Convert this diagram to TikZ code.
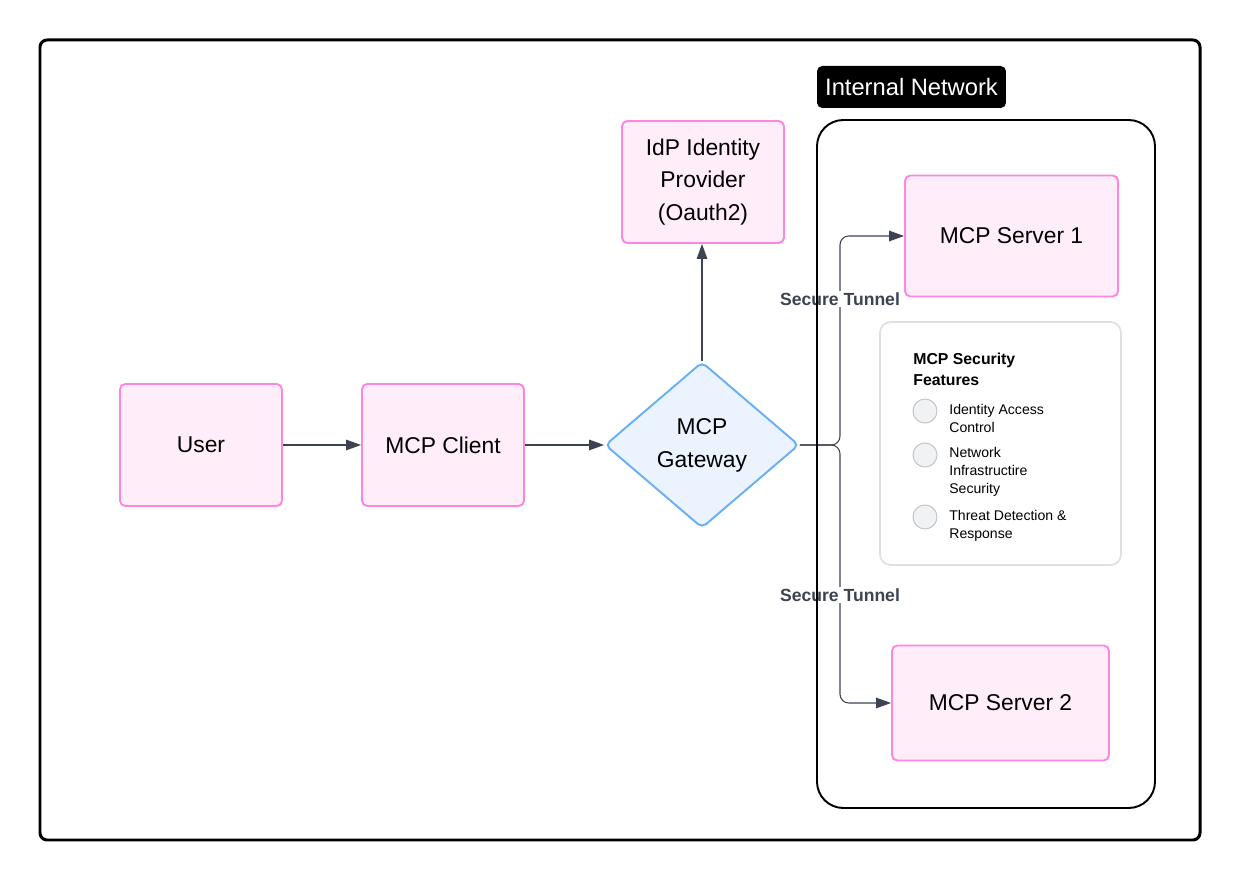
\documentclass[tikz,border=0pt]{standalone}
\usepackage{fontspec}
\setmainfont{Liberation Sans}
\usetikzlibrary{shapes.geometric, arrows.meta, positioning}
\definecolor{nodepink}{HTML}{FF85E0}
\definecolor{nodefill}{HTML}{FFEEF9}
\definecolor{gateblue}{HTML}{6AAEF8}
\definecolor{gatefill}{HTML}{EAF3FE}
\definecolor{linkgray}{HTML}{3D4350}
\definecolor{featline}{HTML}{DDE0E4}
\definecolor{dotfill}{HTML}{F1F2F4}
\definecolor{dotline}{HTML}{C4C6CA}

\begin{document}
\begin{tikzpicture}[x=0.02cm, y=-0.02cm,
  box/.style={draw=nodepink, fill=nodefill, line width=1.1pt, rounded corners=3pt, align=center, font=\fontsize{13}{18.3}\selectfont},
  gate/.style={diamond, draw=gateblue, fill=gatefill, line width=1.1pt, rounded corners=3pt, align=center, inner sep=0pt, minimum width=3.88cm, minimum height=3.32cm, font=\fontsize{13}{18.7}\selectfont},
  link/.style={draw=linkgray, line width=0.6pt, -{Triangle[length=8.5pt,width=6pt]}},
  tunnel/.style={font=\fontsize{10}{12}\selectfont\bfseries, text=linkgray, fill=white, inner sep=1pt},
  dot/.style={circle, draw=dotline, fill=dotfill, line width=0.6pt, minimum size=0.48cm, inner sep=0pt},
  item/.style={anchor=north west, align=left, inner sep=0pt, font=\fontsize{8}{10.2}\selectfont}
]
\useasboundingbox (0,0) rectangle (1241,881);
\draw[line width=1.7pt, rounded corners=4pt] (40,40) rectangle (1200,840);

% Main flow
\node[box, minimum width=3.24cm, minimum height=2.44cm] (user) at (201,445) {User};
\node[box, minimum width=3.24cm, minimum height=2.44cm] (client) at (443,445) {MCP Client};
\node[gate] (gw) at (702,445) {MCP\\Gateway};
\node[box, minimum width=3.24cm, minimum height=2.44cm] (idp) at (703,182) {IdP Identity\\Provider\\(Oauth2)};

% Servers
\node[box, minimum width=4.26cm, minimum height=2.42cm] (srv1) at (1011.5,236) {MCP Server 1};
\node[box, minimum width=4.34cm, minimum height=2.3cm] (srv2) at (1000.5,703) {MCP Server 2};

% Connectors
\draw[link] (user) -- (client);
\draw[link] (client) -- (gw);
\draw[link] (gw.north) -- (gw.north |- idp.south);
\coordinate (split) at (840,445);
\draw[link, rounded corners=5pt] (gw.east) -- (split) |- (srv1.west);
\draw[link, rounded corners=5pt] (gw.east) -- (split) |- (srv2.west);
\node[tunnel] (tun1) at (840,299) {Secure Tunnel};
\node[tunnel] (tun2) at (840,595) {Secure Tunnel};

% Internal network
\draw[line width=1.1pt, rounded corners=15pt] (817,120) rectangle (1155,808);
\node[fill=black, text=white, rounded corners=3pt, minimum width=3.78cm, minimum height=0.84cm, font=\fontsize{13.5}{16}\selectfont] (netlbl) at (911.5,87) {Internal Network};

% Security features
\node[draw=featline, line width=1pt, rounded corners=6pt, minimum width=4.82cm, minimum height=4.86cm] (feat) at (1000.5,443.5) {};
\node[anchor=north west, align=left, inner sep=0pt, font=\fontsize{9}{12}\selectfont\bfseries] (ftitle) at (913,353) {MCP Security\\Features};
\node[dot] (dot1) at (925,411) {};
\node[dot] (dot2) at (925,455) {};
\node[dot] (dot3) at (925,517) {};
\node[item] (feat1) at (949,404) {Identity Access\\Control};
\node[item] (feat2) at (949,447) {Network\\Infrastructire\\Security};
\node[item] (feat3) at (949,510) {Threat Detection \&\\Response};
\end{tikzpicture}
\end{document}
